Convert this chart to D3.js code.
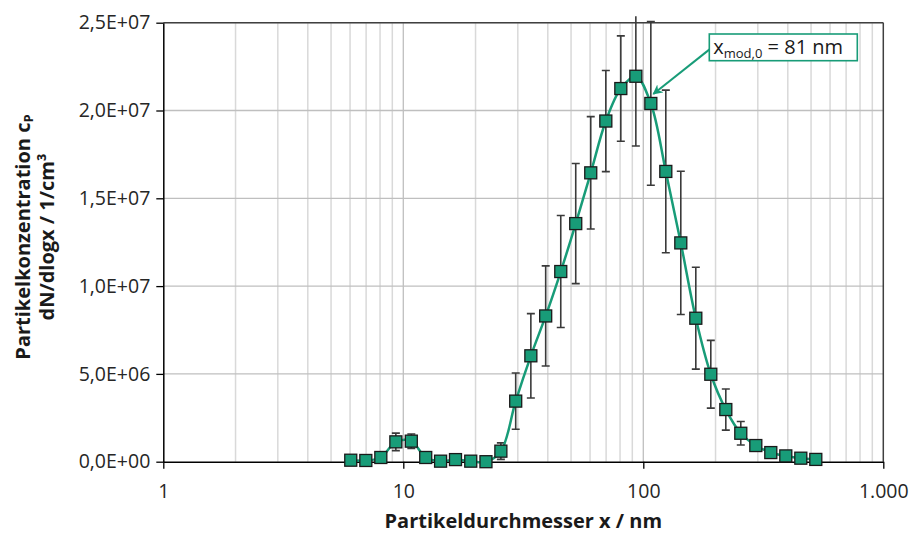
<!DOCTYPE html>
<html>
<head>
<meta charset="utf-8">
<script src="https://cdn.jsdelivr.net/npm/d3@7"></script>
<style>
  html, body { margin: 0; padding: 0; background: #fff; }
  svg { display: block; }
  text { font-family: "Open Sans", "Noto Sans", sans-serif; }
</style>
</head>
<body>
<svg id="chart" width="914" height="534"></svg>
<script>
// ---- data ----
const diameters = [6.04, 6.98, 8.06, 9.31, 10.8, 12.4, 14.3, 16.5, 19.1, 22.1, 25.5, 29.4,
  34.0, 39.2, 45.3, 52.3, 60.4, 69.8, 80.6, 93.1, 107.5, 124.1, 143.3, 165.5,
  191.1, 220.7, 254.8, 294.3, 339.8, 392.4, 453.2, 523.3];
const concentration = [0.085e6, 0.07e6, 0.24e6, 1.13e6, 1.17e6, 0.24e6, 0.03e6, 0.12e6, 0.03e6, 0.0, 0.6e6, 3.45e6,
  6.03e6, 8.3e6, 10.83e6, 13.56e6, 16.45e6, 19.4e6, 21.25e6, 21.95e6, 20.4e6, 16.53e6, 12.46e6, 8.17e6,
  4.98e6, 2.97e6, 1.62e6, 0.92e6, 0.52e6, 0.33e6, 0.2e6, 0.13e6];
const errors = [0.0, 0.0, 0.06e6, 0.5e6, 0.41e6, 0.05e6, 0.0, 0.0, 0.0, 0.03e6, 0.47e6, 1.6e6,
  2.4e6, 2.85e6, 3.19e6, 3.42e6, 3.2e6, 2.88e6, 3.0e6, 3.97e6, 4.66e6, 4.63e6, 4.08e6, 2.9e6,
  1.93e6, 1.17e6, 0.67e6, 0.2e6, 0.08e6, 0.04e6, 0.02e6, 0.02e6];
const xTicks = [1, 10, 100, 1000];
const xTickLabels = ["1", "10", "100", "1.000"];
const yTicks = [0, 5e6, 10e6, 15e6, 20e6, 25e6];
const yTickLabels = ["0,0E+00", "5,0E+06", "1,0E+07", "1,5E+07", "2,0E+07", "2,5E+07"];
const xTitle = "Partikeldurchmesser x / nm";
const yTitle1 = "Partikelkonzentration c";
const yTitle1Sub = "P";
const yTitle2 = "dN/dlogx / 1/cm³";
const annotation = { main: "x", sub: "mod,0", rest: " = 81 nm", pointIndex: 20 };

// ---- layout ----
const W = 914, H = 534;
const m = { left: 163.3, right: 30.7, top: 22.7, bottom: 72.3 };
const pw = W - m.left - m.right, ph = H - m.top - m.bottom;
const teal = "#189c78";
const FS = 19.5;

const svg = d3.select("#chart");
const g = svg.append("g").attr("transform", `translate(${m.left},${m.top})`);

const x = d3.scaleLog().domain([1, 1000]).range([0, pw]);
const y = d3.scaleLinear().domain([0, 25e6]).range([ph, 0]);

// minor vertical grid
const minor = [];
for (let d = 1; d < 1000; d *= 10) for (let k = 2; k <= 9; k++) minor.push(d * k);
g.append("g").selectAll("line").data(minor).join("line")
  .attr("x1", d => x(d)).attr("x2", d => x(d)).attr("y1", 0).attr("y2", ph)
  .attr("stroke", "#d9d9d9").attr("stroke-width", 1.5);
// major vertical grid
g.append("g").selectAll("line").data([10, 100]).join("line")
  .attr("x1", d => x(d)).attr("x2", d => x(d)).attr("y1", 0).attr("y2", ph)
  .attr("stroke", "#bfbfbf").attr("stroke-width", 1.3);
// horizontal grid
g.append("g").selectAll("line").data(yTicks.slice(1)).join("line")
  .attr("x1", 0).attr("x2", pw).attr("y1", d => y(d)).attr("y2", d => y(d))
  .attr("stroke", "#bfbfbf").attr("stroke-width", 1.3);

// frame top & right
g.append("line").attr("x1", 0).attr("x2", pw).attr("y1", 0).attr("y2", 0)
  .attr("stroke", "#404040").attr("stroke-width", 1.5);
g.append("line").attr("x1", pw).attr("x2", pw).attr("y1", 0).attr("y2", ph)
  .attr("stroke", "#404040").attr("stroke-width", 1.5);

// axes
const xAxis = d3.axisBottom(x).tickValues(xTicks).tickFormat((d, i) => xTickLabels[i])
  .tickSizeInner(7).tickSizeOuter(0).tickPadding(15);
const gx = g.append("g").attr("transform", `translate(0,${ph})`).call(xAxis);
gx.select(".domain").attr("stroke", "#000").attr("stroke-width", 1.5);
gx.selectAll(".tick line").attr("stroke", "#000").attr("stroke-width", 1.3);
gx.selectAll(".tick text").attr("font-size", FS).attr("fill", "#262626");

const yAxis = d3.axisLeft(y).tickValues(yTicks).tickFormat((d, i) => yTickLabels[i])
  .tickSizeInner(7).tickSizeOuter(0).tickPadding(6);
const gy = g.append("g").call(yAxis);
gy.select(".domain").attr("stroke", "#000").attr("stroke-width", 1.5);
gy.selectAll(".tick line").attr("stroke", "#000").attr("stroke-width", 1.3);
gy.selectAll(".tick text").attr("font-size", FS).attr("fill", "#262626");

// clip for error bars (slightly above plot area)
svg.append("clipPath").attr("id", "ebclip").append("rect")
  .attr("x", -5).attr("y", -6.5).attr("width", pw + 10).attr("height", ph + 10);

const data = diameters.map((d, i) => ({ d, v: concentration[i], e: errors[i] }));

// error bars
const eb = g.append("g").attr("clip-path", "url(#ebclip)")
  .attr("stroke", "#3a3a3a").attr("stroke-width", 1.6);
const ebData = data.filter(p => p.e > 0);
eb.selectAll("line.v").data(ebData).join("line").attr("class", "v")
  .attr("x1", p => x(p.d)).attr("x2", p => x(p.d))
  .attr("y1", p => y(p.v + p.e)).attr("y2", p => y(p.v - p.e));
eb.selectAll("line.t").data(ebData).join("line").attr("class", "t")
  .attr("x1", p => x(p.d) - 4).attr("x2", p => x(p.d) + 4)
  .attr("y1", p => y(p.v + p.e)).attr("y2", p => y(p.v + p.e));
eb.selectAll("line.b").data(ebData).join("line").attr("class", "b")
  .attr("x1", p => x(p.d) - 4).attr("x2", p => x(p.d) + 4)
  .attr("y1", p => y(p.v - p.e)).attr("y2", p => y(p.v - p.e));

// smoothed line
const line = d3.line().x(p => x(p.d)).y(p => y(p.v)).curve(d3.curveCatmullRom.alpha(0.5));
g.append("path").datum(data).attr("d", line)
  .attr("fill", "none").attr("stroke", teal).attr("stroke-width", 2.5);

// markers
const ms = 12;
g.append("g").selectAll("rect").data(data).join("rect")
  .attr("x", p => x(p.d) - ms / 2).attr("y", p => y(p.v) - ms / 2)
  .attr("width", ms).attr("height", ms)
  .attr("fill", teal).attr("stroke", "#1a1a1a").attr("stroke-width", 1.3);

// annotation
const ap = data[annotation.pointIndex];
const boxX = 709.3 - m.left, boxY = 34 - m.top, boxW = 148, boxH = 26.7;
svg.append("defs").append("marker").attr("id", "arr")
  .attr("viewBox", "0 0 10 10").attr("refX", 9).attr("refY", 5)
  .attr("markerWidth", 5).attr("markerHeight", 5).attr("orient", "auto")
  .append("path").attr("d", "M0,0 L10,5 L0,10 L3,5 Z").attr("fill", teal);
g.append("line")
  .attr("x1", boxX + 1.5).attr("y1", boxY + boxH / 2 + 1)
  .attr("x2", x(ap.d) + 2.5).attr("y2", y(ap.v) - 9.5)
  .attr("stroke", teal).attr("stroke-width", 2).attr("marker-end", "url(#arr)");
g.append("rect").attr("x", boxX).attr("y", boxY).attr("width", boxW).attr("height", boxH)
  .attr("fill", "#fff").attr("stroke", teal).attr("stroke-width", 1.6);
const at = g.append("text").attr("x", boxX + 4).attr("y", boxY + 20)
  .attr("font-size", 20).attr("fill", "#1a1a1a");
at.append("tspan").text(annotation.main);
at.append("tspan").attr("font-size", 13).attr("dy", 4).text(annotation.sub);
at.append("tspan").attr("dy", -4).text(annotation.rest);

// axis titles
svg.append("text").attr("x", m.left + pw / 2).attr("y", 528)
  .attr("text-anchor", "middle").attr("font-size", 20).attr("font-weight", "bold")
  .attr("fill", "#1a1a1a").text(xTitle);
const yt = svg.append("g").attr("transform", `translate(0,237) rotate(-90)`);
const t1 = yt.append("text").attr("x", 0).attr("y", 30).attr("text-anchor", "middle")
  .attr("font-size", 20).attr("font-weight", "bold").attr("fill", "#1a1a1a");
t1.append("tspan").text(yTitle1);
t1.append("tspan").attr("font-size", 13).attr("dy", 3).text(yTitle1Sub);
yt.append("text").attr("x", 0).attr("y", 54).attr("text-anchor", "middle")
  .attr("font-size", 20).attr("font-weight", "bold").attr("fill", "#1a1a1a").text(yTitle2);
</script>
</body>
</html>
